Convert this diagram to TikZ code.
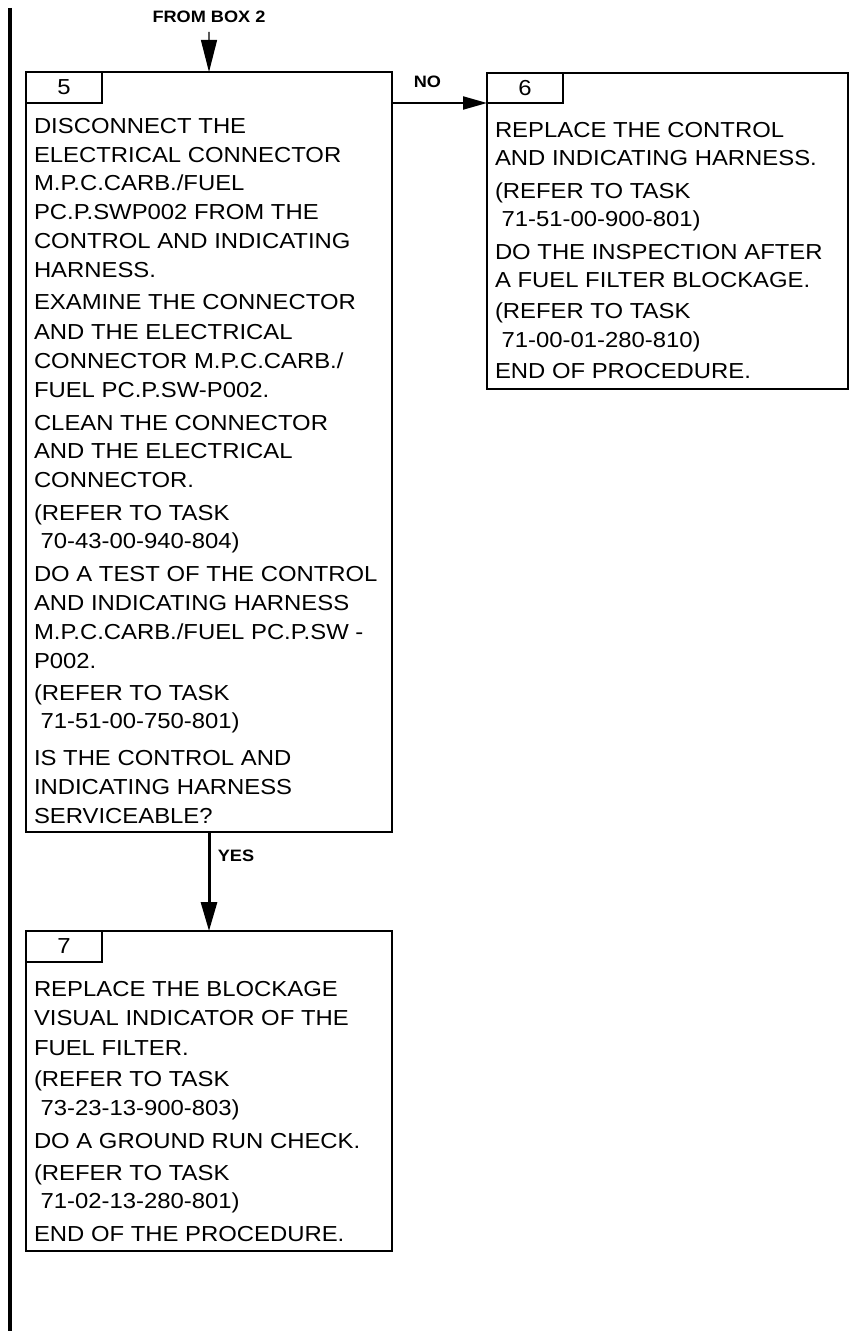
\documentclass[tikz,border=0pt]{standalone}
\usepackage{fontspec}
\setmainfont{Liberation Sans}[FakeStretch=1.1]
\usetikzlibrary{arrows.meta}
\newcommand\mainsz{\fontsize{21.7bp}{26bp}\selectfont}
\newcommand\flagsz{\fontsize{16.5bp}{20bp}\selectfont}
\tikzset{
  box/.style={draw, line width=2bp, anchor=north west, inner sep=0pt, outer sep=0pt},
  lbl/.style={draw, line width=2bp, minimum width=76bp, minimum height=31bp, anchor=north west, inner sep=0pt, outer sep=0pt, font=\mainsz},
  txt/.style={anchor=base west, inner sep=0pt, outer sep=0pt, font=\mainsz},
  flag/.style={font=\bfseries\flagsz, inner sep=0pt},
  bar/.style={line width=4bp},
}
\begin{document}
\begin{tikzpicture}[x=1bp,y=-1bp]
\useasboundingbox (0,0) rectangle (849,1331);
% left change bar
\coordinate (barTop) at (10,8);
\coordinate (barBot) at (10,1331);
\draw[bar] (barTop) -- (barBot);

% boxes
\node[box, minimum width=366bp, minimum height=760bp] (b5) at (26,72) {};
\node[box, minimum width=361bp, minimum height=316bp] (b6) at (487,73) {};
\node[box, minimum width=366bp, minimum height=320bp] (b7) at (26,931) {};

\node[lbl] (l5) at (26,72) {5};
\node[lbl, minimum height=30bp] (l6) at (487,73) {6};
\node[lbl] (l7) at (26,931) {7};

% box 5 text
\foreach \py/\ptext [count=\i] in {
  134/{DISCONNECT THE},
  163/{ELECTRICAL CONNECTOR},
  191/{M.P.C.CARB./FUEL},
  220/{PC.P.SWP002 FROM THE},
  249/{CONTROL AND INDICATING},
  278/{HARNESS.},
  310/{EXAMINE THE CONNECTOR},
  339/{AND THE ELECTRICAL},
  368/{CONNECTOR M.P.C.CARB./},
  397/{FUEL PC.P.SW-P002.},
  430/{CLEAN THE CONNECTOR},
  458/{AND THE ELECTRICAL},
  487/{CONNECTOR.},
  520/{(REFER TO TASK},
  548/{\ 70-43-00-940-804)},
  581/{DO A TEST OF THE CONTROL},
  610/{AND INDICATING HARNESS},
  639/{M.P.C.CARB./FUEL PC.P.SW -},
  668/{P002.},
  700/{(REFER TO TASK},
  728/{\ 71-51-00-750-801)},
  765/{IS THE CONTROL AND},
  794/{INDICATING HARNESS},
  823/{SERVICEABLE?}}
  \node[txt] (t5-\i) at (34,\py) {\ptext};

% box 6 text
\foreach \py/\ptext [count=\i] in {
  138/{REPLACE THE CONTROL},
  166/{AND INDICATING HARNESS.},
  199/{(REFER TO TASK},
  227/{\ 71-51-00-900-801)},
  260/{DO THE INSPECTION AFTER},
  288/{A FUEL FILTER BLOCKAGE.},
  319/{(REFER TO TASK},
  347/{\ 71-00-01-280-810)},
  378/{END OF PROCEDURE.}}
  \node[txt] (t6-\i) at (495,\py) {\ptext};

% box 7 text
\foreach \py/\ptext [count=\i] in {
  996/{REPLACE THE BLOCKAGE},
  1025/{VISUAL INDICATOR OF THE},
  1055/{FUEL FILTER.},
  1086/{(REFER TO TASK},
  1115/{\ 73-23-13-900-803)},
  1148/{DO A GROUND RUN CHECK.},
  1180/{(REFER TO TASK},
  1208/{\ 71-02-13-280-801)},
  1241/{END OF THE PROCEDURE.}}
  \node[txt] (t7-\i) at (34,\py) {\ptext};

% connectors
\node[flag] (from) at (209,17) {FROM BOX 2};
\coordinate (fromStart) at (209,32);
\draw[line width=1.2bp, -{Triangle[length=32bp,width=16bp]}] (fromStart) -- (b5.north);

\node[flag] (no) at (427.5,82) {NO};
\draw[line width=2bp, -{Triangle[length=24bp,width=13bp]}] (l6.south west -| b5.east) -- (l6.south west);

\node[flag] (yes) at (236,856) {YES};
\draw[line width=3bp, -{Triangle[length=29bp,width=16bp]}] (b5.south) -- (b7.north);
\end{tikzpicture}
\end{document}
